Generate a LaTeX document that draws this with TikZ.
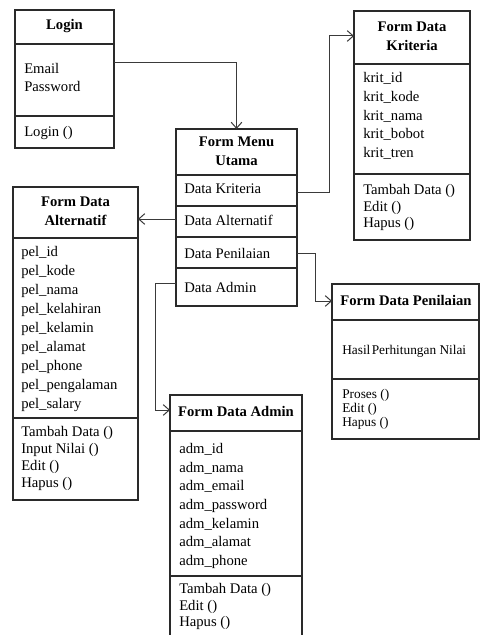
\documentclass[tikz,border=0pt]{standalone}
\usepackage{fontspec}
\setmainfont{Liberation Serif}
\usetikzlibrary{arrows.meta}
\definecolor{boxline}{HTML}{2A2A2A}
\definecolor{connline}{HTML}{3A3A3A}
\begin{document}
\begin{tikzpicture}[x=0.75pt,y=-0.75pt,
  box/.style={draw=boxline, line width=0.8pt, anchor=north west, inner sep=0pt, outer sep=0pt},
  rule/.style={draw=boxline, line width=0.8pt},
  title/.style={anchor=mid, font=\fontsize{11pt}{13pt}\selectfont\bfseries, inner sep=0pt},
  item/.style={anchor=mid west, font=\fontsize{11pt}{13pt}\selectfont, inner sep=0pt},
  small/.style={anchor=mid west, font=\fontsize{10pt}{12pt}\selectfont, inner sep=0pt},
  conn/.style={draw=connline, line width=0.75pt, -{Straight Barb[length=4.5pt,width=8pt]}},
]
\useasboundingbox (0,0) rectangle (481,635);
\fill[white] (0,0) rectangle (481,635);
\clip (0,0) rectangle (481,635);

% ---- Login ----
\node[box, minimum width=74.25pt, minimum height=103.5pt] (login) at (15,10) {};
\draw[rule] (login.west |- 0,44) -- (login.east |- 0,44);
\draw[rule] (login.west |- 0,116) -- (login.east |- 0,116);
\node[title] (login-t) at (64.5,26) {Login};
\node[item] (login-a1) at (24,70) {Email};
\node[item] (login-a2) at (24,88) {Password};
\node[item] (login-m1) at (24,133) {Login ()};

% ---- Form Menu Utama ----
\node[box, minimum width=90.75pt, minimum height=132.75pt] (menu) at (176,129) {};
\draw[rule] (menu.west |- 0,175) -- (menu.east |- 0,175);
\draw[rule] (menu.west |- 0,206) -- (menu.east |- 0,206);
\draw[rule] (menu.west |- 0,237) -- (menu.east |- 0,237);
\draw[rule] (menu.west |- 0,268) -- (menu.east |- 0,268);
\node[title] (menu-t1) at (236.5,143) {Form Menu};
\node[title] (menu-t2) at (236.5,162) {Utama};
\node[item] (menu-r1) at (184,190) {Data Kriteria};
\node[item] (menu-r2) at (184,222) {Data Alternatif};
\node[item] (menu-r3) at (184,255) {Data Penilaian};
\node[item] (menu-r4) at (184,289) {Data Admin};

% ---- Form Data Kriteria ----
\node[box, minimum width=87pt, minimum height=171.75pt] (kriteria) at (354,11) {};
\draw[rule] (kriteria.west |- 0,64) -- (kriteria.east |- 0,64);
\draw[rule] (kriteria.west |- 0,174) -- (kriteria.east |- 0,174);
\node[title] (krit-t1) at (412,28) {Form Data};
\node[title] (krit-t2) at (412,47) {Kriteria};
\node[item] (krit-a1) at (363,79) {krit\_id};
\node[item] (krit-a2) at (363,98) {krit\_kode};
\node[item] (krit-a3) at (363,117) {krit\_nama};
\node[item] (krit-a4) at (363,135) {krit\_bobot};
\node[item] (krit-a5) at (363,154) {krit\_tren};
\node[item] (krit-m1) at (363,191) {Tambah Data ()};
\node[item] (krit-m2) at (363,208) {Edit ()};
\node[item] (krit-m3) at (363,224) {Hapus ()};

% ---- Form Data Alternatif ----
\node[box, minimum width=93.75pt, minimum height=234.75pt] (alternatif) at (13,187) {};
\draw[rule] (alternatif.west |- 0,238) -- (alternatif.east |- 0,238);
\draw[rule] (alternatif.west |- 0,418) -- (alternatif.east |- 0,418);
\node[title] (alt-t1) at (75.5,203) {Form Data};
\node[title] (alt-t2) at (75.5,222) {Alternatif};
\node[item] (alt-a1) at (21,253) {pel\_id};
\node[item] (alt-a2) at (21,272) {pel\_kode};
\node[item] (alt-a3) at (21,291) {pel\_nama};
\node[item] (alt-a4) at (21,310) {pel\_kelahiran};
\node[item] (alt-a5) at (21,329) {pel\_kelamin};
\node[item] (alt-a6) at (21,348) {pel\_alamat};
\node[item] (alt-a7) at (21,367) {pel\_phone};
\node[item] (alt-a8) at (21,386) {pel\_pengalaman};
\node[item] (alt-a9) at (21,405) {pel\_salary};
\node[item] (alt-m1) at (21,433) {Tambah Data ()};
\node[item] (alt-m2) at (21,450) {Input Nilai ()};
\node[item] (alt-m3) at (21,467) {Edit ()};
\node[item] (alt-m4) at (21,484) {Hapus ()};

% ---- Form Data Penilaian ----
\node[box, minimum width=110.25pt, minimum height=116.25pt] (penilaian) at (332,284) {};
\draw[rule] (penilaian.west |- 0,320) -- (penilaian.east |- 0,320);
\draw[rule] (penilaian.west |- 0,379) -- (penilaian.east |- 0,379);
\node[title] (pen-t) at (406,302) {Form Data Penilaian};
\node[small] (pen-a1) at (342,351) {Hasil\hspace{1pt}Perhitungan Nilai};
\node[small] (pen-m1) at (342,395) {Proses ()};
\node[small] (pen-m2) at (342,409) {Edit ()};
\node[small] (pen-m3) at (342,423) {Hapus ()};

% ---- Form Data Admin (runs past the lower edge) ----
\node[box, minimum width=99pt, minimum height=183.75pt] (admin) at (170,395) {};
\draw[rule] (admin.west |- 0,431) -- (admin.east |- 0,431);
\draw[rule] (admin.west |- 0,576) -- (admin.east |- 0,576);
\node[title] (adm-t) at (236,413) {Form Data Admin};
\node[item] (adm-a1) at (179,450) {adm\_id};
\node[item] (adm-a2) at (179,469) {adm\_nama};
\node[item] (adm-a3) at (179,487) {adm\_email};
\node[item] (adm-a4) at (179,506) {adm\_password};
\node[item] (adm-a5) at (179,525) {adm\_kelamin};
\node[item] (adm-a6) at (179,543) {adm\_alamat};
\node[item] (adm-a7) at (179,562) {adm\_phone};
\node[item] (adm-m1) at (179,590) {Tambah Data ()};
\node[item] (adm-m2) at (179,607) {Edit ()};
\node[item] (adm-m3) at (179,623) {Hapus ()};

% ---- connectors ----
\draw[conn] (login.east |- 0,63) -| (menu.north);
\draw[conn] (menu.east |- 0,192) -- (329,192) |- (kriteria.west |- 0,36);
\draw[conn] (menu.west |- 0,219) -- (alternatif.east |- 0,219);
\draw[conn] (menu.east |- 0,253) -- (315,253) |- (penilaian.west |- 0,301);
\draw[conn] (menu.west |- 0,283) -- (155,283) |- (admin.west |- 0,410);
\end{tikzpicture}
\end{document}
